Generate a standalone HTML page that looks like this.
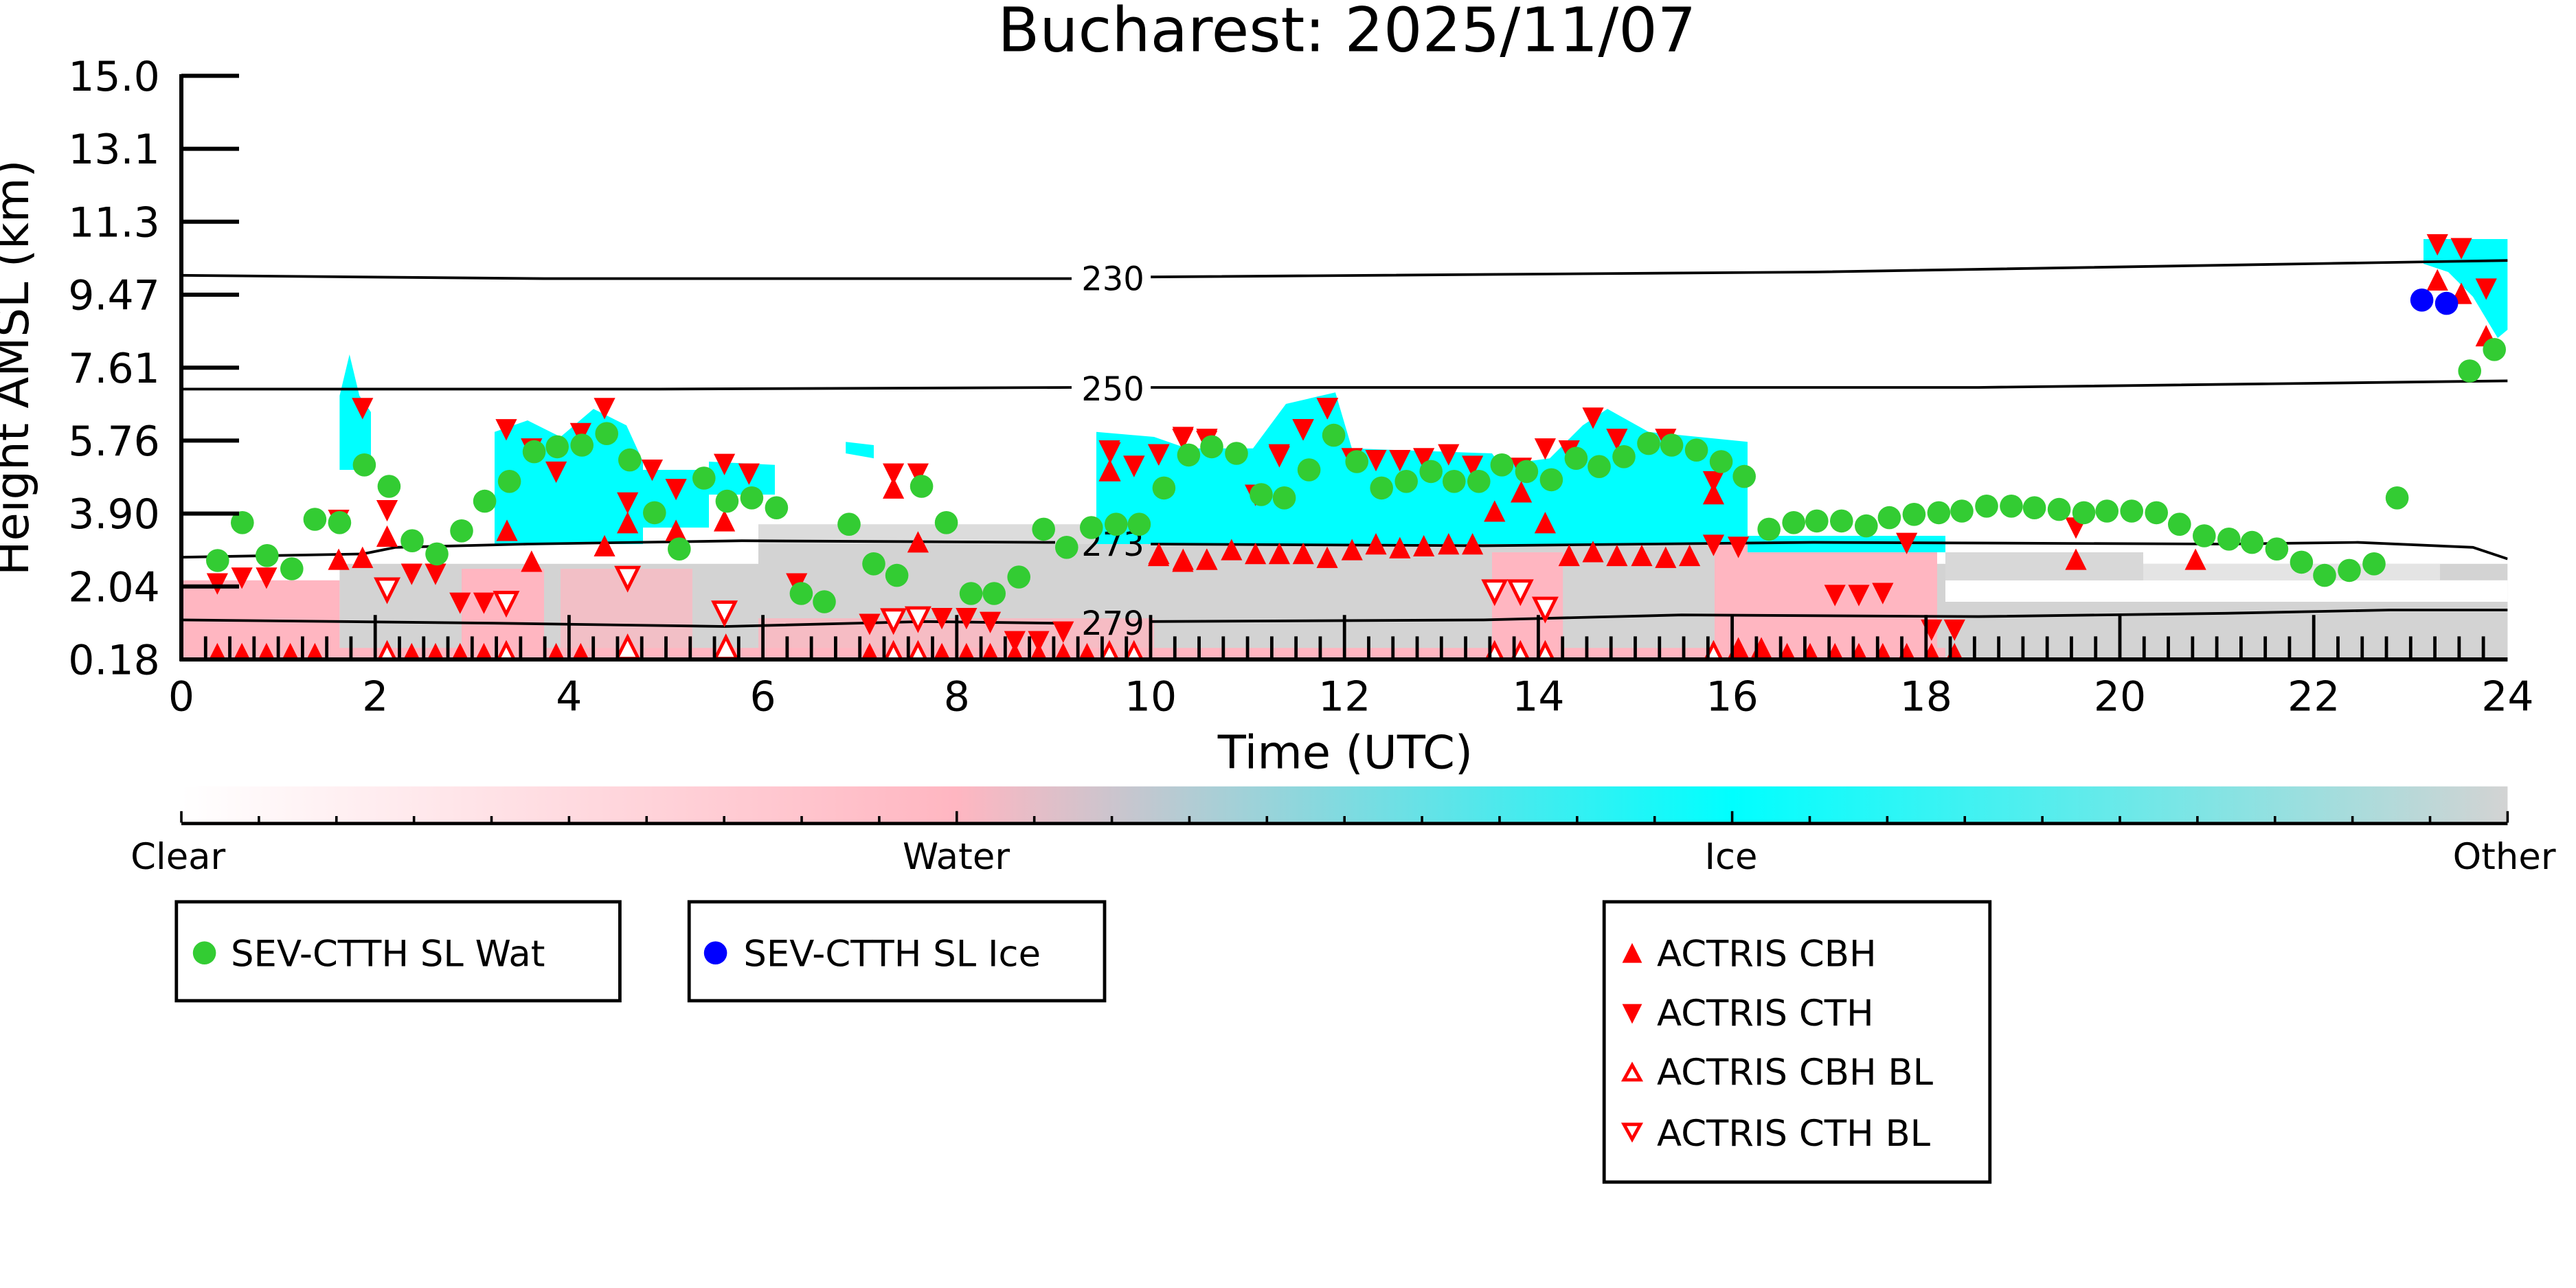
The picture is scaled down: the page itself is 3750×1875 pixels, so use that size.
<!DOCTYPE html>
<html><head><meta charset="utf-8"><style>
html,body{margin:0;padding:0;background:#fff;}
svg{display:block;}
text{font-family:"DejaVu Sans","Liberation Sans",sans-serif;}
</style></head><body>
<svg id="s" width="3750" height="1875" viewBox="0 0 1562.5 781.25" xmlns="http://www.w3.org/2000/svg">
<defs>
<linearGradient id="cb" x1="0" x2="1" y1="0" y2="0">
<stop offset="0" stop-color="#ffffff"/>
<stop offset="0.333" stop-color="#ffb6c1"/>
<stop offset="0.667" stop-color="#00ffff"/>
<stop offset="1" stop-color="#d3d3d3"/>
</linearGradient>
<clipPath id="pc"><rect x="110" y="46" width="1411" height="354"/></clipPath>
</defs>
<text x="817" y="31" font-size="37" text-anchor="middle">Bucharest: 2025/11/07</text>
<g clip-path="url(#pc)" id="data">
<rect x="206" y="342" width="1315" height="58" fill="#d3d3d3"/>
<rect x="460" y="318" width="240" height="12" fill="#dcdcdc"/>
<rect x="460" y="330" width="240" height="70" fill="#d3d3d3"/>
<rect x="700" y="330" width="350" height="70" fill="#d3d3d3"/>
<rect x="1180" y="352" width="341" height="13" fill="#fff"/>
<rect x="1180" y="365" width="341" height="35" fill="#d3d3d3"/>
<rect x="1180" y="335" width="120" height="17" fill="#d8d8d8"/>
<rect x="1300" y="342" width="180" height="10" fill="#e4e4e4"/>
<rect x="110" y="352" width="96" height="48" fill="#ffb6c1"/>
<rect x="280" y="345" width="50" height="55" fill="#ffb6c1"/>
<rect x="340" y="345" width="80" height="55" fill="#ffb6c1" opacity="0.7"/>
<rect x="460" y="375" width="240" height="25" fill="#ffb6c1" opacity="0.8"/>
<rect x="905" y="335" width="43" height="65" fill="#ffb6c1"/>
<rect x="1040" y="330" width="135" height="70" fill="#ffb6c1"/>
<rect x="110" y="393" width="1070" height="7" fill="#ffb6c1"/>
<polygon fill="#00ffff" points="206,285 206,240 212,215 218,240 225,250 225,285"/>
<polygon fill="#00ffff" points="300,330 300,262 320,255 340,265 360,248 380,258 390,280 390,330"/>
<polygon fill="#00ffff" points="390,320 390,285 430,285 430,320"/>
<polygon fill="#00ffff" points="430,300 430,280 470,282 470,300"/>
<polygon fill="#00ffff" points="513,275 513,268 530,270 530,278"/>
<polygon fill="#00ffff" points="665,330 665,262 700,265 720,272 760,272 780,245 810,238 820,272 905,275 910,282 940,278 960,258 975,248 1000,262 1060,268 1060,330"/>
<rect x="1060" y="325" width="120" height="10" fill="#00ffff"/>
<polygon fill="#00ffff" points="1470,145 1521,145 1521,200 1515,205 1500,180 1485,165 1470,160"/>
<polyline fill="none" stroke="#000" stroke-width="1.6" points="110,167 330,169 650,169"/>
<polyline fill="none" stroke="#000" stroke-width="1.6" points="698,168 1100,165 1400,160 1521,158"/>
<polyline fill="none" stroke="#000" stroke-width="1.6" points="110,236 400,236 650,235"/>
<polyline fill="none" stroke="#000" stroke-width="1.6" points="698,235 900,235 1200,235 1521,231"/>
<polyline fill="none" stroke="#000" stroke-width="1.6" points="110,338 220,336 240,332 320,330 450,328 640,329"/>
<polyline fill="none" stroke="#000" stroke-width="1.6" points="698,330 900,331 1100,329 1350,330 1430,329 1500,332 1521,339"/>
<polyline fill="none" stroke="#000" stroke-width="1.6" points="110,376 300,378 440,380 560,377 640,378"/>
<polyline fill="none" stroke="#000" stroke-width="1.6" points="698,377 900,376 1020,373 1200,374 1350,372 1450,370 1521,370"/>
<text x="675" y="176" font-size="20" text-anchor="middle">230</text>
<text x="675" y="243" font-size="20" text-anchor="middle">250</text>
<text x="675" y="337" font-size="20" text-anchor="middle">273</text>
<text x="675" y="385" font-size="20" text-anchor="middle">279</text>
<g id="mk"></g>
</g>
<g stroke="#000" stroke-width="2.5" fill="none">
<line x1="110" y1="45" x2="110" y2="401"/>
<line x1="109" y1="400" x2="1521" y2="400"/>
</g>
<g id="ax"></g>
<text transform="translate(17,223) rotate(-90)" font-size="28" text-anchor="middle">Height AMSL (km)</text>
<text x="816" y="466" font-size="28" text-anchor="middle">Time (UTC)</text>
<rect x="110" y="477" width="1411" height="22" fill="url(#cb)"/>
<line x1="110" y1="499.5" x2="1521" y2="499.5" stroke="#000" stroke-width="2"/>
<g id="cbt"></g>
<text x="108" y="527" font-size="22" text-anchor="middle">Clear</text>
<text x="580" y="527" font-size="22" text-anchor="middle">Water</text>
<text x="1050" y="527" font-size="22" text-anchor="middle">Ice</text>
<text x="1519" y="527" font-size="22" text-anchor="middle">Other</text>
<rect x="107" y="547" width="269" height="60" fill="#fff" stroke="#000" stroke-width="2"/>
<circle cx="124" cy="578" r="7" fill="#33cc33"/>
<text x="140" y="586" font-size="22">SEV-CTTH SL Wat</text>
<rect x="418" y="547" width="252" height="60" fill="#fff" stroke="#000" stroke-width="2"/>
<circle cx="434" cy="578" r="7" fill="#0000ff"/>
<text x="451" y="586" font-size="22">SEV-CTTH SL Ice</text>
<rect x="973" y="547" width="234" height="170" fill="#fff" stroke="#000" stroke-width="2"/>
<polygon points="984,584 996,584 990,572" fill="#ff0000"/>
<text x="1005" y="586" font-size="22">ACTRIS CBH</text>
<polygon points="984,609 996,609 990,621" fill="#ff0000"/>
<text x="1005" y="622" font-size="22">ACTRIS CTH</text>
<polygon points="985,655 995,655 990,646" fill="#fff" stroke="#ff0000" stroke-width="2"/>
<text x="1005" y="658" font-size="22">ACTRIS CBH BL</text>
<polygon points="985,682 995,682 990,691" fill="#fff" stroke="#ff0000" stroke-width="2"/>
<text x="1005" y="695" font-size="22">ACTRIS CTH BL</text>
</svg>
<script>
(function(){
var NS="http://www.w3.org/2000/svg";
function el(p,t,a){var e=document.createElementNS(NS,t);for(var k in a)e.setAttribute(k,a[k]);p.appendChild(e);return e;}
var ax=document.getElementById("ax");
var yl=["15.0","13.1","11.3","9.47","7.61","5.76","3.90","2.04","0.18"];
for(var i=0;i<9;i++){var y=46+i*44.25;
el(ax,"line",{x1:110,y1:y,x2:145,y2:y,stroke:"#000","stroke-width":2.5});
var t=el(ax,"text",{x:97,y:y+9,"font-size":25,"text-anchor":"end"});t.textContent=yl[i];}
for(var q=0;q<=96;q++){var x=110+q*1411/96;var L=(q%8==0)?27:14;
if(q>0&&q<96) el(ax,"line",{x1:x,y1:400,x2:x,y2:400-L,stroke:"#000","stroke-width":2});
if(q%8==0){var t=el(ax,"text",{x:x,y:431,"font-size":25,"text-anchor":"middle"});t.textContent=q/4;}}
var cbt=document.getElementById("cbt");
for(var j=0;j<=30;j++){var x=110+j*1411/30;var L=(j%10==0)?7:4;
el(cbt,"line",{x1:x,y1:499,x2:x,y2:499-L,stroke:"#000","stroke-width":1.5});}
var mk=document.getElementById("mk");
function z1(zx,zy){return [(260+zx*1.084)/2.4,(100+zy*0.561)/2.4];}
function z2(zx,zy){return [(1600+zx*1.339)/2.4,(100+zy*0.561)/2.4];}
function up(p,open){var x=p[0],y=p[1];el(mk,"polygon",{points:(x-6.5)+","+(y+6)+" "+(x+6.5)+","+(y+6)+" "+x+","+(y-7),fill:open?"#fff":"#ff0000",stroke:open?"#ff0000":"none","stroke-width":2});}
function dn(p,open){var x=p[0],y=p[1];el(mk,"polygon",{points:(x-6.5)+","+(y-6)+" "+(x+6.5)+","+(y-6)+" "+x+","+(y+7),fill:open?"#fff":"#ff0000",stroke:open?"#ff0000":"none","stroke-width":2});}
var bf=[52,85,118,150,183,313,345,378,410,507,540,928,1025,1058,1090,1123,1155,1188,1220];
bf.forEach(function(zx){up(z1(zx,1520));});
[280,440,960,993,1250,1283].forEach(function(zx){up(z1(zx,1522),true);});
[603,735].forEach(function(zx){up(z1(zx,1505),true);});
[430,458,485,668].forEach(function(zx){up(z2(zx,1522),true);});
[695,720].forEach(function(zx){up(z2(zx,1505));});
[748,773,800,826,852,878,905,930].forEach(function(zx){up(z2(zx,1520));});
[[52,1335],[85,1320],[118,1320],[215,1170],[247,880],[280,1145],[313,1310],[345,1310],[378,1385],[410,1385],[440,935],[474,985],[507,1045],[540,945],[572,880],[603,1125],[636,1040],[668,1090],[733,1025],[766,1050],[830,1335],[960,1050],[993,1050],[928,1440],[1025,1425],[1058,1425],[1090,1435],[1123,1485],[1155,1485],[1188,1460],[1250,990],[1283,1030],[1316,1000],[1349,955],[1381,960],[1478,1000],[1510,935],[1543,880]].forEach(function(a){dn(z1(a[0],a[1]));});
[[280,1350],[440,1385],[603,1320],[733,1410],[960,1430],[993,1425]].forEach(function(a){dn(z1(a[0],a[1]),true);});
[[215,1275],[247,1270],[280,1215],[441,1200],[474,1280],[572,1240],[603,1180],[668,1200],[733,1175],[960,1090],[993,1230],[1250,1045],[1316,1265],[1349,1275],[1381,1275]].forEach(function(a){up(z1(a[0],a[1]));});
[[12,995],[38,1030],[65,1000],[91,960],[117,965],[170,1105],[196,1005],[222,935],[248,880],[275,1010],[301,1015],[327,1015],[353,1010],[380,1000],[406,1030],[459,1035],[485,985],[511,990],[537,905],[563,960],[616,960],[668,1235],[695,1240],[800,1365],[826,1365],[852,1360],[878,1230],[905,1455],[930,1455],[1062,1190],[1455,455],[1481,465],[1508,570],[668,1070]].forEach(function(a){dn(z2(a[0],a[1]));});
[[430,1355],[458,1355],[485,1400]].forEach(function(a){dn(z2(a[0],a[1]),true);});
[[12,1045],[65,1260],[91,1280],[117,1275],[144,1250],[170,1260],[196,1260],[222,1260],[248,1270],[275,1250],[301,1235],[327,1245],[353,1240],[380,1235],[406,1235],[430,1150],[459,1100],[485,1180],[511,1265],[537,1255],[563,1265],[590,1265],[616,1270],[642,1265],[668,1105],[1062,1275],[1192,1275],[1455,550],[1481,585],[1508,695]].forEach(function(a){up(z2(a[0],a[1]));});
var g=[[132,340],[147,317],[162,337],[177,345],[191,315],[206,317],[221,282],[236,295],[250,328],[265,336],[280,322],[294,304],[309,292],[324,274],[338,271],[353,270],[368,263],[382,279],[397,311],[412,333],[427,290],[441,304],[456,302],[471,308],[486,360],[500,365],[515,318],[530,342],[544,349],[559,295],[574,317],[589,360],[603,360],[618,350],[633,321],[647,332],[662,320],[677,318],[691,318],[706,296],[721,276],[735,271],[750,275],[765,300],[779,302],[794,285],[809,264],[823,280],[838,296],[853,292],[868,286],[882,292],[897,292],[911,282],[926,286],[941,291],[956,278],[970,283],[985,277],[1000,269],[1014,270],[1029,273],[1044,280],[1058,289],[1073,321],[1088,317],[1102,316],[1117,316],[1132,319],[1146,314],[1161,312],[1176,311],[1190,310],[1205,307],[1220,307],[1234,308],[1249,309],[1264,311],[1278,310],[1293,310],[1308,311],[1322,318],[1337,325],[1352,327],[1366,329],[1381,333],[1396,341],[1410,349],[1425,346],[1440,342],[1454,302],[1498,225],[1513,212]];
g.forEach(function(a){el(mk,"circle",{cx:a[0],cy:a[1],r:7,fill:"#33cc33"});});
[[1469,182],[1484,184]].forEach(function(a){el(mk,"circle",{cx:a[0],cy:a[1],r:7,fill:"#0000ff"});});
})();
</script>
</body></html>
